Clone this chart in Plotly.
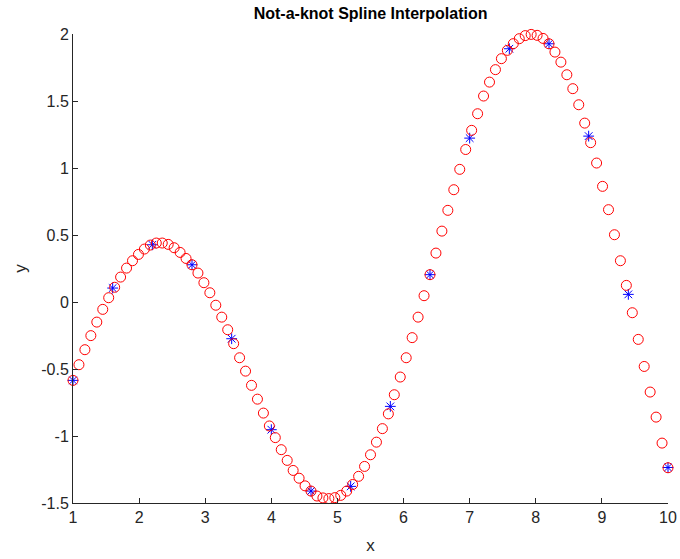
import plotly.graph_objects as go

# Knot data (blue asterisks)
x_knots = [1.0, 1.6, 2.2, 2.8, 3.4, 4.0, 4.6, 5.2, 5.8, 6.4, 7.0, 7.6, 8.2, 8.8, 9.4, 10.0]
y_knots = [-0.585, 0.104, 0.427, 0.278, -0.274, -0.953, -1.411, -1.376,
           -0.779, 0.204, 1.223, 1.890, 1.927, 1.238, 0.057, -1.235]

# Interpolated curve samples (red circles)
x_fine = [1.00, 1.09, 1.18, 1.27, 1.36, 1.45, 1.54, 1.63, 1.72, 1.81,
          1.90, 1.99, 2.08, 2.17, 2.26, 2.35, 2.44, 2.53, 2.62, 2.71,
          2.80, 2.89, 2.98, 3.07, 3.16, 3.25, 3.34, 3.43, 3.52, 3.61,
          3.70, 3.79, 3.88, 3.97, 4.06, 4.15, 4.24, 4.33, 4.42, 4.51,
          4.60, 4.69, 4.78, 4.87, 4.96, 5.05, 5.14, 5.23, 5.32, 5.41,
          5.50, 5.59, 5.68, 5.77, 5.86, 5.95, 6.04, 6.13, 6.22, 6.31,
          6.40, 6.49, 6.58, 6.67, 6.76, 6.85, 6.94, 7.03, 7.12, 7.21,
          7.30, 7.39, 7.48, 7.57, 7.66, 7.75, 7.84, 7.93, 8.02, 8.11,
          8.20, 8.29, 8.38, 8.47, 8.56, 8.65, 8.74, 8.83, 8.92, 9.01,
          9.10, 9.19, 9.28, 9.37, 9.46, 9.55, 9.64, 9.73, 9.82, 9.91,
          10.00]
y_fine = [-0.585, -0.468, -0.356, -0.251, -0.150, -0.055, 0.032, 0.110, 0.186, 0.253,
          0.308, 0.355, 0.395, 0.425, 0.440, 0.440, 0.430, 0.405, 0.370, 0.325,
          0.278, 0.216, 0.144, 0.069, -0.024, -0.113, -0.207, -0.311, -0.416, -0.516,
          -0.622, -0.725, -0.829, -0.925, -1.012, -1.102, -1.182, -1.257, -1.315, -1.372,
          -1.411, -1.448, -1.462, -1.467, -1.460, -1.443, -1.411, -1.362, -1.301, -1.227,
          -1.140, -1.046, -0.945, -0.835, -0.692, -0.560, -0.416, -0.266, -0.113, 0.047,
          0.204, 0.365, 0.529, 0.684, 0.838, 0.990, 1.138, 1.281, 1.405, 1.537,
          1.641, 1.734, 1.816, 1.878, 1.928, 1.965, 1.988, 1.997, 1.990, 1.967,
          1.927, 1.865, 1.790, 1.696, 1.592, 1.472, 1.335, 1.189, 1.037, 0.863,
          0.689, 0.502, 0.308, 0.124, -0.080, -0.279, -0.481, -0.672, -0.859, -1.053,
          -1.237]

x_ticks = [1, 2, 3, 4, 5, 6, 7, 8, 9, 10]
x_tick_labels = ["1", "2", "3", "4", "5", "6", "7", "8", "9", "10"]
y_ticks = [-1.5, -1, -0.5, 0, 0.5, 1, 1.5, 2]
y_tick_labels = ["-1.5", "-1", "-0.5", "0", "0.5", "1", "1.5", "2"]

axis_color = "#262626"
font_family = "Arial, 'Liberation Sans', Helvetica, sans-serif"

fig = go.Figure()
fig.add_trace(go.Scatter(
    x=x_knots, y=y_knots, mode="markers",
    marker=dict(symbol="asterisk-open", size=9, color="#0000FF",
                line=dict(color="#0000FF", width=1)),
    cliponaxis=False, showlegend=False, hoverinfo="x+y"))
fig.add_trace(go.Scatter(
    x=x_fine, y=y_fine, mode="markers",
    marker=dict(symbol="circle-open", size=10, color="#FF0000",
                line=dict(color="#FF0000", width=1)),
    cliponaxis=False, showlegend=False, hoverinfo="x+y"))

fig.update_layout(
    width=680, height=559,
    margin=dict(l=73, r=12, t=34, b=56, pad=0, autoexpand=False),
    paper_bgcolor="white", plot_bgcolor="white",
    font=dict(family=font_family, color=axis_color, size=16),
    title=dict(text="<b>Not-a-knot Spline Interpolation</b>",
               x=0.545, xanchor="center",
               y=1 - 13 / 559, yanchor="middle",
               font=dict(size=16, color="#000000", family=font_family)),
    xaxis=dict(range=[1, 10], tickvals=x_ticks, ticktext=x_tick_labels,
               showgrid=False, zeroline=False, showline=True, automargin=False,
               linecolor=axis_color, linewidth=1, mirror=False,
               ticks="inside", ticklen=5, tickcolor=axis_color, tickwidth=1,
               tickfont=dict(size=16, color=axis_color),
               title=dict(text="x", font=dict(size=17, color=axis_color), standoff=13)),
    yaxis=dict(range=[-1.5, 2], tickvals=y_ticks, ticktext=y_tick_labels,
               showgrid=False, zeroline=False, showline=True, automargin=False,
               linecolor=axis_color, linewidth=1, mirror=False,
               ticks="inside", ticklen=5, tickcolor=axis_color, tickwidth=1,
               tickfont=dict(size=16, color=axis_color),
               title=dict(text="y", font=dict(size=17, color=axis_color), standoff=10)),
)

fig.write_html("out.html")
